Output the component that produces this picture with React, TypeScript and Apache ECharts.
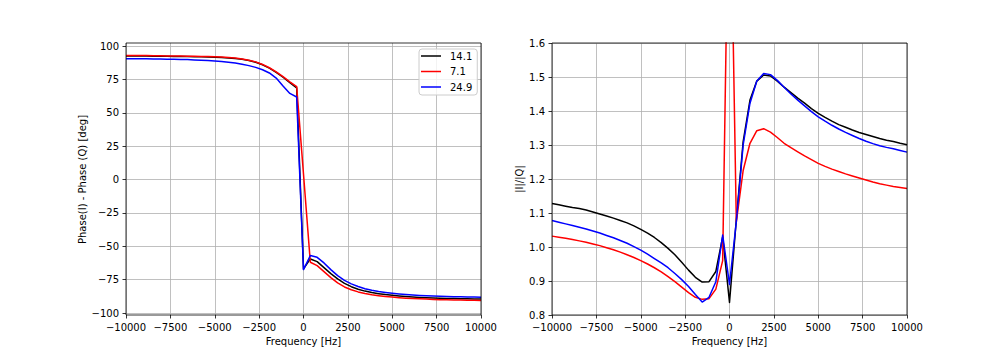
import React, { useEffect, useRef } from "react";
import * as echarts from "echarts";

const freqs = [
  -10000, -9615.4, -9230.8, -8846.2, -8461.5, -8076.9, -7692.3, -7307.7, -6923.1, -6538.5,
  -6153.8, -5769.2, -5384.6, -5000, -4615.4, -4230.8, -3846.2, -3461.5, -3076.9, -2692.3,
  -2307.7, -1923.1, -1538.5, -1153.8, -769.2, -384.6, 0, 384.6, 769.2, 1153.8,
  1538.5, 1923.1, 2307.7, 2692.3, 3076.9, 3461.5, 3846.2, 4230.8, 4615.4, 5000,
  5384.6, 5769.2, 6153.8, 6538.5, 6923.1, 7307.7, 7692.3, 8076.9, 8461.5, 8846.2,
  9230.8, 9615.4, 10000,
];

const seriesNames = ["14.1", "7.1", "24.9"];
const seriesColors = ["#000000", "#ff0000", "#0000ff"];

// Phase(I) - Phase(Q) [deg]
const phase141 = [
  92.6, 92.6, 92.5, 92.5, 92.4, 92.4, 92.3, 92.2, 92.2, 92.1,
  92.0, 91.9, 91.8, 91.6, 91.4, 91.1, 90.7, 90.0, 89.1, 87.8,
  85.9, 83.4, 80.3, 76.6, 72.6, 68.6, -67.0, -59.5, -61.5, -66.0,
  -70.5, -74.5, -77.8, -80.3, -82.2, -83.6, -84.7, -85.5, -86.2, -86.7,
  -87.2, -87.6, -88.0, -88.3, -88.6, -88.8, -89.0, -89.1, -89.2, -89.3,
  -89.4, -89.5, -89.6,
];
const phase71 = [
  92.9, 92.9, 92.8, 92.8, 92.7, 92.7, 92.6, 92.5, 92.5, 92.4,
  92.3, 92.2, 92.1, 91.9, 91.7, 91.4, 91.0, 90.3, 89.4, 88.1,
  86.2, 83.7, 80.6, 77.0, 73.2, 69.6, 4.0, -62.0, -64.5, -69.0,
  -73.5, -77.5, -80.5, -82.6, -84.2, -85.4, -86.3, -87.0, -87.6, -88.1,
  -88.5, -88.9, -89.2, -89.4, -89.6, -89.8, -90.0, -90.1, -90.2, -90.3,
  -90.4, -90.5, -90.6,
];
const phase249 = [
  90.5, 90.5, 90.4, 90.4, 90.3, 90.2, 90.1, 90.0, 89.9, 89.8,
  89.6, 89.4, 89.1, 88.8, 88.4, 87.9, 87.2, 86.3, 85.3, 84.0,
  82.2, 79.8, 76.0, 70.0, 64.5, 61.8, -67.5, -57.0, -58.3, -62.5,
  -67.5, -72.0, -75.5, -78.2, -80.2, -81.8, -83.0, -83.9, -84.6, -85.2,
  -85.7, -86.1, -86.5, -86.8, -87.1, -87.3, -87.5, -87.7, -87.8, -87.9,
  -88.0, -88.1, -88.2,
];

// |I|/|Q|
const ratio141 = [
  1.128, 1.124, 1.120, 1.116, 1.113, 1.109, 1.103, 1.097, 1.091, 1.085,
  1.078, 1.071, 1.062, 1.052, 1.041, 1.028, 1.013, 0.996, 0.977, 0.955,
  0.932, 0.911, 0.897, 0.898, 0.928, 1.030, 0.837, 1.080, 1.310, 1.432,
  1.488, 1.506, 1.503, 1.488, 1.470, 1.454, 1.438, 1.423, 1.407, 1.393,
  1.381, 1.370, 1.360, 1.352, 1.344, 1.337, 1.331, 1.325, 1.319, 1.314,
  1.310, 1.305, 1.301,
];
const ratio71 = [
  1.032, 1.029, 1.026, 1.022, 1.018, 1.014, 1.009, 1.004, 0.998, 0.992,
  0.985, 0.977, 0.969, 0.960, 0.950, 0.939, 0.927, 0.913, 0.898, 0.882,
  0.866, 0.852, 0.846, 0.848, 0.876, 0.960, 2.25, 1.074, 1.225, 1.305,
  1.342, 1.348, 1.338, 1.322, 1.305, 1.292, 1.280, 1.268, 1.257, 1.246,
  1.237, 1.229, 1.222, 1.215, 1.209, 1.203, 1.197, 1.191, 1.186, 1.182,
  1.178, 1.175, 1.172,
];
const ratio249 = [
  1.078, 1.073, 1.068, 1.063, 1.058, 1.053, 1.047, 1.041, 1.034, 1.027,
  1.019, 1.011, 1.001, 0.991, 0.979, 0.966, 0.953, 0.939, 0.922, 0.904,
  0.884, 0.860, 0.838, 0.852, 0.898, 1.035, 0.890, 1.075, 1.300, 1.423,
  1.488, 1.510, 1.507, 1.490, 1.470, 1.450, 1.432, 1.415, 1.398, 1.383,
  1.370, 1.358, 1.347, 1.337, 1.328, 1.319, 1.311, 1.304, 1.298, 1.293,
  1.289, 1.284, 1.279,
];

const xTicks = { min: -10000, max: 10000, interval: 2500 };
const phaseTicks = { min: -100, max: 100, interval: 25 };
const ratioTicks = { min: 0.8, max: 1.6, interval: 0.1 };

const FONT = "DejaVu Sans";
const minus = (s: string) => s.replace("-", "\u2212");

export default function App() {
  const ref = useRef<HTMLDivElement>(null);

  useEffect(() => {
    if (!ref.current) return;
    const chart = echarts.init(ref.current, null, { renderer: "svg" });

    const tick = { show: true, length: 3.5, lineStyle: { color: "#000", width: 0.8 } };
    const label = { color: "#000", fontFamily: FONT, fontSize: 10, margin: 7 };
    const split = { show: true, lineStyle: { color: "#b0b0b0", width: 0.8 } };
    const nameStyle = { color: "#000", fontFamily: FONT, fontSize: 10 };
    const noLine = { show: false, onZero: false };

    const mk = (name: string, color: string, vals: number[], axis: number) => ({
      type: "line",
      name,
      xAxisIndex: axis,
      yAxisIndex: axis,
      data: freqs.map((f, i) => [f, vals[i]]),
      showSymbol: false,
      symbol: "none",
      color,
      itemStyle: { color },
      lineStyle: { width: 1.5, color, join: "round" },
      clip: true,
    });

    const option: any = {
      animation: false,
      backgroundColor: "#ffffff",
      textStyle: { fontFamily: FONT },
      grid: [
        { left: 126, width: 355, top: 46, height: 267 },
        { left: 126, width: 355, top: 43, height: 272 },
        { left: 552, width: 355, top: 43, height: 272 },
      ],
      xAxis: [
        {
          type: "value", gridIndex: 0, ...xTicks, offset: 2, position: "bottom",
          axisLine: noLine, axisTick: tick, splitLine: { show: false },
          axisLabel: { ...label, formatter: (v: number) => minus(String(v)) },
          name: "Frequency [Hz]", nameLocation: "middle", nameGap: 19, nameTextStyle: nameStyle,
        },
        {
          type: "value", gridIndex: 1, ...xTicks,
          axisLine: noLine, axisTick: { show: false }, axisLabel: { show: false },
          splitLine: split,
        },
        {
          type: "value", gridIndex: 2, ...xTicks, position: "bottom",
          axisLine: noLine, axisTick: tick, splitLine: split,
          axisLabel: { ...label, formatter: (v: number) => minus(String(v)) },
          name: "Frequency [Hz]", nameLocation: "middle", nameGap: 21, nameTextStyle: nameStyle,
        },
      ],
      yAxis: [
        {
          type: "value", gridIndex: 0, ...phaseTicks, position: "left",
          axisLine: noLine, axisTick: tick, splitLine: split,
          axisLabel: { ...label, formatter: (v: number) => minus(String(v)) },
          name: "Phase(I) - Phase (Q) [deg]", nameLocation: "middle", nameGap: 38,
          nameRotate: 90, nameTextStyle: nameStyle,
        },
        { type: "value", gridIndex: 1, min: 0, max: 1, show: false },
        {
          type: "value", gridIndex: 2, ...ratioTicks, position: "left",
          axisLine: noLine, axisTick: tick, splitLine: split,
          axisLabel: { ...label, formatter: (v: number) => v.toFixed(1) },
          name: "|I|/|Q|", nameLocation: "middle", nameGap: 28,
          nameRotate: 90, nameTextStyle: nameStyle,
        },
      ],
      legend: {
        data: seriesNames,
        orient: "vertical",
        left: 419,
        top: 49,
        icon: "rect",
        itemWidth: 20,
        itemHeight: 1.5,
        itemGap: 5.5,
        padding: [2, 5, 3, 2],
        backgroundColor: "rgba(255,255,255,0.8)",
        borderColor: "#cccccc",
        borderWidth: 1,
        borderRadius: 3,
        selectedMode: false,
        formatter: "{t|{name}}",
        textStyle: {
          fontFamily: FONT, fontSize: 10, color: "#000", lineHeight: 10,
          rich: { t: { fontFamily: FONT, fontSize: 10, color: "#000", lineHeight: 10, padding: [0, 0, 0, 4] } },
        },
      },
      graphic: [
        {
          type: "rect", z: 100, silent: true,
          shape: { x: 126, y: 43, width: 355, height: 272 },
          style: { fill: "none", stroke: "#000", lineWidth: 0.8 },
        },
        {
          type: "rect", z: 100, silent: true,
          shape: { x: 552, y: 43, width: 355, height: 272 },
          style: { fill: "none", stroke: "#000", lineWidth: 0.8 },
        },
      ],
      series: [
        mk(seriesNames[0], seriesColors[0], phase141, 0),
        mk(seriesNames[1], seriesColors[1], phase71, 0),
        mk(seriesNames[2], seriesColors[2], phase249, 0),
        mk(seriesNames[0], seriesColors[0], ratio141, 2),
        mk(seriesNames[1], seriesColors[1], ratio71, 2),
        mk(seriesNames[2], seriesColors[2], ratio249, 2),
      ],
    };

    chart.setOption(option);
    return () => chart.dispose();
  }, []);

  return (
    <div
      ref={ref}
      style={{ position: "fixed", left: 0, top: 0, width: 1008, height: 360, background: "#fff" }}
    />
  );
}
